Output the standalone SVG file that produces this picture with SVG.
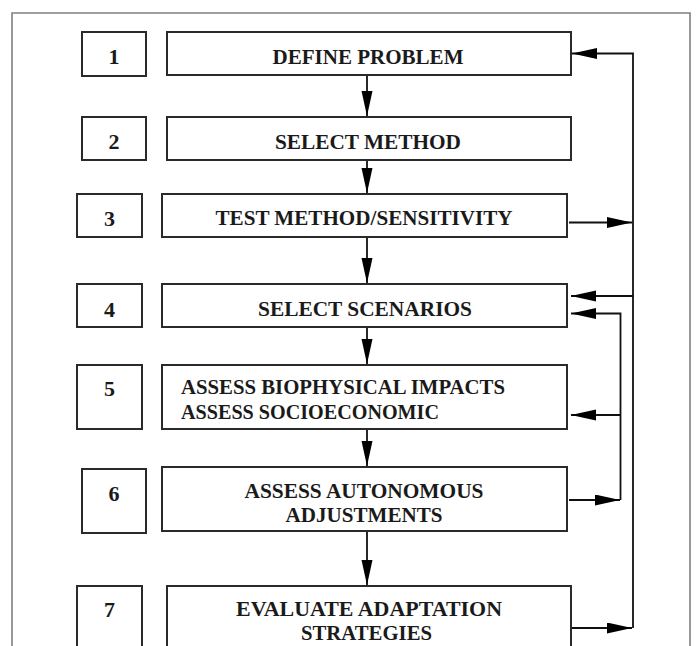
<svg xmlns="http://www.w3.org/2000/svg" width="698" height="646" viewBox="0 0 698 646">
<style>
.box{fill:#fff;stroke:#2a2a2a;stroke-width:2}
.t{font-family:"Liberation Serif","Times New Roman",serif;font-weight:bold;font-size:22px;fill:#1a1a1a}
.c{text-anchor:middle}
.ln{fill:none;stroke:#111;stroke-width:1.8}
</style>
<defs>
<marker id="ah" markerUnits="userSpaceOnUse" markerWidth="26" markerHeight="12" refX="25" refY="5.5" orient="auto">
<path d="M0,0 L25,5.5 L0,11 Z" fill="#000"/>
</marker>
</defs>
<rect x="0" y="0" width="698" height="646" fill="#fff"/>
<path d="M12,660 V13 H690 V660" fill="none" stroke="#808080" stroke-width="1.6"/>

<g id="n1">
<rect class="box" x="82" y="32" width="64" height="44"/>
<text class="t c" x="114" y="64">1</text>
<rect class="box" x="167" y="32" width="404" height="43"/>
<text class="t c" x="368" y="63.5" textLength="191" lengthAdjust="spacingAndGlyphs">DEFINE PROBLEM</text>
</g>
<g id="n2">
<rect class="box" x="82" y="117" width="64" height="43"/>
<text class="t c" x="114" y="149">2</text>
<rect class="box" x="167" y="117" width="404" height="43"/>
<text class="t c" x="368" y="148.5" textLength="186" lengthAdjust="spacingAndGlyphs">SELECT METHOD</text>
</g>
<g id="n3">
<rect class="box" x="77" y="194" width="65" height="43"/>
<text class="t c" x="109.5" y="226">3</text>
<rect class="box" x="162" y="194" width="405" height="43"/>
<text class="t c" x="364" y="225" textLength="297" lengthAdjust="spacingAndGlyphs">TEST METHOD/SENSITIVITY</text>
</g>
<g id="n4">
<rect class="box" x="77" y="284" width="65" height="43"/>
<text class="t c" x="109.5" y="317">4</text>
<rect class="box" x="162" y="284" width="405" height="43"/>
<text class="t c" x="365" y="315.5" textLength="214" lengthAdjust="spacingAndGlyphs">SELECT SCENARIOS</text>
</g>
<g id="n5">
<rect class="box" x="77" y="365" width="65" height="64"/>
<text class="t c" x="109.5" y="396">5</text>
<rect class="box" x="162" y="365" width="405" height="64"/>
<text class="t" x="181" y="394" textLength="324" lengthAdjust="spacingAndGlyphs">ASSESS BIOPHYSICAL IMPACTS</text>
<text class="t" x="181" y="419" textLength="258" lengthAdjust="spacingAndGlyphs">ASSESS SOCIOECONOMIC</text>
</g>
<g id="n6">
<rect class="box" x="82" y="469" width="64" height="64"/>
<text class="t c" x="114" y="500.5">6</text>
<rect class="box" x="162" y="467" width="405" height="64"/>
<text class="t c" x="364" y="497.5" textLength="239" lengthAdjust="spacingAndGlyphs">ASSESS AUTONOMOUS</text>
<text class="t c" x="364" y="521.5" textLength="157" lengthAdjust="spacingAndGlyphs">ADJUSTMENTS</text>
</g>
<g id="n7">
<rect class="box" x="77" y="586" width="65" height="80"/>
<text class="t c" x="109.5" y="617">7</text>
<rect class="box" x="167" y="586" width="404" height="80"/>
<text class="t c" x="369" y="615.5" textLength="266" lengthAdjust="spacingAndGlyphs">EVALUATE ADAPTATION</text>
<text class="t c" x="366.5" y="640" textLength="131" lengthAdjust="spacingAndGlyphs">STRATEGIES</text>
</g>

<g id="connectors">
<line class="ln" x1="367" y1="76" x2="367" y2="116" marker-end="url(#ah)"/>
<line class="ln" x1="367" y1="161" x2="367" y2="193" marker-end="url(#ah)"/>
<line class="ln" x1="367" y1="238" x2="367" y2="283" marker-end="url(#ah)"/>
<line class="ln" x1="367" y1="328" x2="367" y2="364" marker-end="url(#ah)"/>
<line class="ln" x1="367" y1="430" x2="367" y2="466" marker-end="url(#ah)"/>
<line class="ln" x1="367" y1="532" x2="367" y2="585" marker-end="url(#ah)"/>
<path class="ln" d="M633,628 V53.5 H572" marker-end="url(#ah)"/>
<line class="ln" x1="569" y1="222.5" x2="632" y2="222.5" marker-end="url(#ah)"/>
<line class="ln" x1="633" y1="296" x2="571" y2="296" marker-end="url(#ah)"/>
<path class="ln" d="M620.5,500 V313.5 H571" marker-end="url(#ah)"/>
<line class="ln" x1="620.5" y1="415" x2="571" y2="415" marker-end="url(#ah)"/>
<line class="ln" x1="569" y1="500" x2="620" y2="500" marker-end="url(#ah)"/>
<line class="ln" x1="572" y1="628" x2="632" y2="628" marker-end="url(#ah)"/>
</g>
</svg>
